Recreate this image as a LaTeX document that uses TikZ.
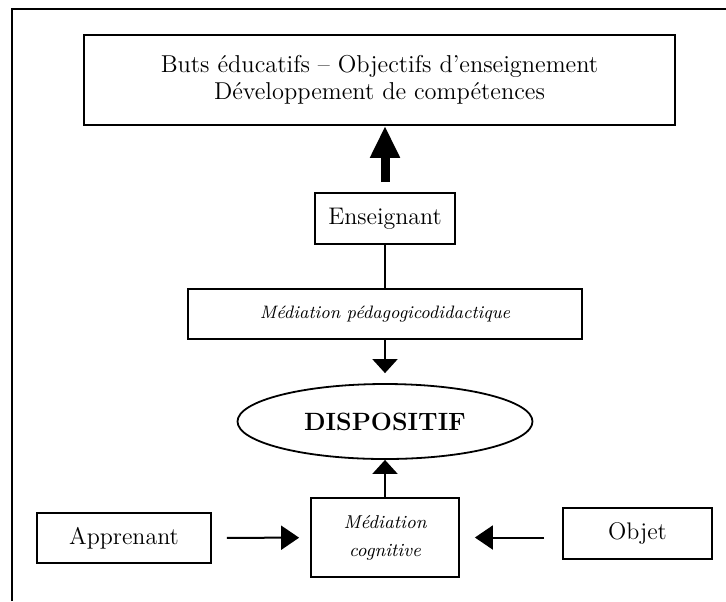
\documentclass[tikz,border=0pt]{standalone}
\usetikzlibrary{arrows.meta,shapes.geometric}
\begin{document}
\begin{tikzpicture}[x=0.5pt,y=-0.5pt,
    boite/.style={draw,line width=0.9pt,inner sep=0pt,align=center,font=\fontsize{12}{13}\selectfont},
    fleche/.style={line width=1pt,-{Triangle[length=7pt,width=12.5pt]}},
    flechelat/.style={line width=1pt,-{Triangle[length=9pt,width=12pt]}}]
\useasboundingbox (0,0) rectangle (726,601);
\draw[line width=1pt] (12,601) -- (12,9) -- (726,9);
\node[boite,font=\fontsize{12.2}{13.5}\selectfont,minimum width=295.5pt,minimum height=45pt] (buts) at (379.5,80)
    {Buts éducatifs – Objectifs d’enseignement\\Développement de compétences};
\node[boite,minimum width=70pt,minimum height=25.5pt] (ens) at (385,218.5) {Enseignant};
\node[boite,font=\fontsize{9}{11}\selectfont\itshape,minimum width=197pt,minimum height=25pt] (ped) at (385,314)
    {Médiation pédagogicodidactique};
\node[ellipse,draw,line width=0.9pt,inner sep=0pt,minimum width=147.5pt,minimum height=37.5pt,
    font=\fontsize{12.5}{14}\selectfont\bfseries] (dispo) at (385,421.5) {DISPOSITIF};
\node[boite,font=\fontsize{9.3}{14}\selectfont\itshape,minimum width=74pt,minimum height=39.5pt] (cog) at (385,537.5)
    {Médiation\\cognitive};
\node[boite,minimum width=87pt,minimum height=25pt] (app) at (124,538) {Apprenant};
\node[boite,minimum width=74.5pt,minimum height=25.5pt] (obj) at (637.5,533.5) {Objet};
\draw[line width=4.5pt,-{Triangle[length=16pt,width=14pt]},shorten <=5pt] (ens.north) -- (ens.north |- buts.south);
\draw[line width=1pt] (ens) -- (ped);
\draw[fleche,shorten >=5pt] (ped) -- (dispo);
\draw[fleche] (cog) -- (dispo);
\draw[flechelat,shorten <=7.5pt,shorten >=5.5pt] (app) -- (cog);
\draw[flechelat,shorten <=9pt,shorten >=7.5pt] (obj.west |- cog.east) -- (cog.east);
\end{tikzpicture}
\end{document}
